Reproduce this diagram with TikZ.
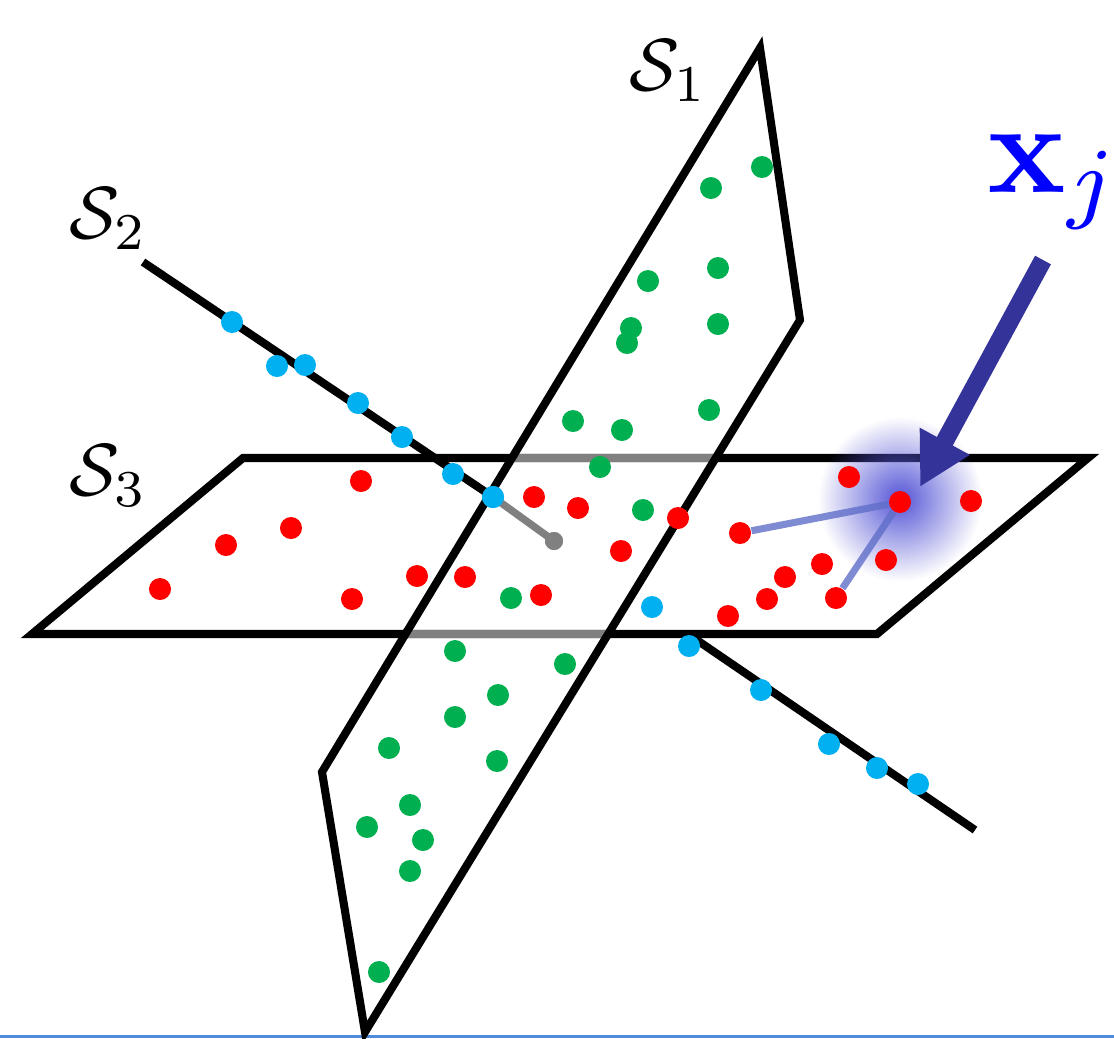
\documentclass[tikz,border=0pt]{standalone}
\usetikzlibrary{arrows.meta,fadings}
\definecolor{dotred}{RGB}{255,0,0}
\definecolor{dotgreen}{RGB}{0,176,80}
\definecolor{dotblue}{RGB}{0,176,240}
\definecolor{arrowblue}{RGB}{51,51,153}
\definecolor{glowblue}{RGB}{85,85,215}
\definecolor{linkblue}{RGB}{95,110,200}
\definecolor{hidgray}{RGB}{128,128,128}
\definecolor{edgeblue}{RGB}{80,140,220}
\tikzfading[name=glowfade, inner color=transparent!0, outer color=transparent!100]
\begin{document}
\begin{tikzpicture}[x=0.01cm,y=-0.01cm,
  edge/.style={line width=2.3pt, black, line join=miter},
  hidden/.style={line width=2.1pt, hidgray},
  rdot/.style={circle, fill=dotred, inner sep=0pt, minimum size=0.22cm},
  gdot/.style={circle, fill=dotgreen, inner sep=0pt, minimum size=0.22cm},
  bdot/.style={circle, fill=dotblue, inner sep=0pt, minimum size=0.22cm},
  greydot/.style={circle, fill=hidgray, inner sep=0pt, minimum size=0.18cm},
  link/.style={line width=2pt, linkblue, opacity=0.8},
  lab/.style={inner sep=0pt, scale=2.1}]
\useasboundingbox (0,0) rectangle (1114,1038);
\fill[white] (0,0) rectangle (1114,1038);
\draw[edgeblue, line width=0.6pt] (0,1036.5) -- (1114,1036.5);

% plane S3
\draw[edge] (243,458) -- (1088,458) -- (877,634) -- (32,634) -- cycle;
\draw[hidden] (512,458) -- (716,458);
\draw[hidden] (405,634) -- (608,634);

% plane S1
\draw[edge] (760,48) -- (800,320) -- (365,1032) -- (322,772) -- cycle;

% glow around x_j
\fill[glowblue, path fading=glowfade] (900,499) circle (82);

% line S2
\coordinate (s2a) at (143,262);
\coordinate (s2b) at (688,634);
\coordinate (s2c) at (975,830);
\node[bdot] (b7) at (493,497) {};
\node[greydot] (gd) at (554,541) {};
\draw[edge, line cap=butt] (s2a) -- (b7.center);
\draw[hidden] (b7.center) -- (gd.center);
\draw[edge] (s2b) -- (s2c);

% blue dots on S2
\foreach \p [count=\i] in {(232,322),(277,366),(305,365),(358,403),(402,437),(453,474),(652,607),(689,646),(761,690),(829,744),(877,768),(918,784)}
  \node[bdot] (b\i) at \p {};
\node[bdot] (b7) at (493,497) {};
\node[greydot] (gd) at (554,541) {};

% green dots on S1
\foreach \p [count=\i] in {(762,167),(711,188),(648,281),(718,268),(631,328),(627,343),(718,324),(573,421),(622,430),(709,410),(600,467),(643,510),(511,598),(455,651),(565,664),(498,695),(455,717),(389,748),(497,761),(410,805),(367,827),(423,840),(410,871),(379,972)}
  \node[gdot] (g\i) at \p {};

% red dots on S3
\foreach \p [count=\i] in {(361,481),(291,528),(226,545),(160,589),(352,599),(417,576),(465,577),(541,595),(534,497),(578,508),(621,551),(678,518),(849,477),(971,501),(886,560),(822,564),(785,577),(767,599),(728,616)}
  \node[rdot] (r\i) at \p {};
\node[rdot] (rA) at (740,533) {};
\node[rdot] (rB) at (836,598) {};
\node[rdot] (rX) at (900,502) {};

% links to x_j
\draw[link] (rA) -- (rX);
\draw[link] (rB) -- (rX);

% arrow to x_j
\coordinate (atail) at (1043,260);
\coordinate (atip) at (920,487);
\draw[arrowblue, line width=0.18cm, -{Triangle[width=0.53cm,length=0.52cm]}] (atail) -- (atip);

% labels
\node[lab, anchor=base west] (l1) at (628,90) {$\mathcal{S}_1$};
\node[lab, anchor=base west] (l2) at (68,238) {$\mathcal{S}_2$};
\node[lab, anchor=base west] (l3) at (68,495) {$\mathcal{S}_3$};
\node[inner sep=0pt, anchor=base west, text=blue, scale=3.7] (lx) at (985,192) {$\mathbf{x}_j$};
\end{tikzpicture}
\end{document}
